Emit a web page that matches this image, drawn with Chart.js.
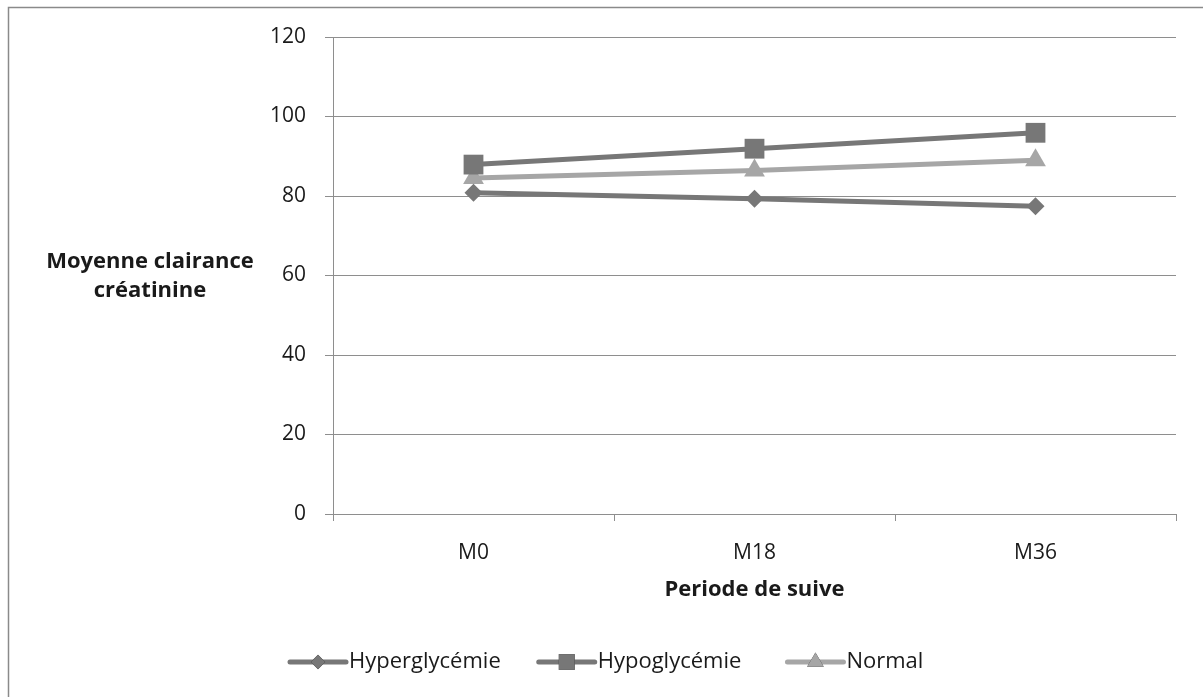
<!DOCTYPE html>
<html>
<head>
<meta charset="utf-8">
<title>Moyenne clairance créatinine</title>
<script src="https://cdn.jsdelivr.net/npm/chart.js@4"></script>
<style>
    html, body { margin: 0; padding: 0; background: #fff; overflow: hidden; }
    #wrap { position: relative; width: 1203px; height: 697px; }
    canvas { display: block; }
</style>
</head>
<body>
<div id="wrap"><canvas id="clairanceChart" width="1203" height="697"></canvas></div>
<script>
// data
const periodes = ["M0", "M18", "M36"];
const hyperglycemie = [80.8, 79.3, 77.4];
const hypoglycemie = [87.9, 91.9, 95.9];
const normal = [84.5, 86.4, 89.0];
const yTicks = [0, 20, 40, 60, 80, 100, 120];

const FONT = "'Open Sans', Lato, sans-serif";
const TEXT = "#1a1a1a";
const DARK = "#777777";
const LIGHT = "#a6a6a6";
const GRID = "#8e8e8e";

// frame + horizontal y title + legend with line and marker
const decorPlugin = {
    id: "decor",
    beforeDraw(chart) {
        let ctx = chart.ctx;
        ctx.save();
        ctx.strokeStyle = "#8a8a8a";
        ctx.lineWidth = 1.5;
        ctx.beginPath();
        ctx.moveTo(8.5, 697);
        ctx.lineTo(8.5, 7.5);
        ctx.lineTo(1203, 7.5);
        ctx.stroke();
        ctx.restore();
    },
    afterDraw(chart) {
        let ctx = chart.ctx;
        ctx.save();
        ctx.fillStyle = TEXT;
        ctx.font = "bold 22px " + FONT;
        ctx.textAlign = "center";
        ctx.textBaseline = "middle";
        ctx.fillText("Moyenne clairance", 150, 262);
        ctx.fillText("créatinine", 150, 291);

        // legend, entries share the same width
        let y = 662;
        ctx.font = "22px " + FONT;
        ctx.textAlign = "left";
        let datasets = chart.data.datasets;
        let widest = Math.max(...datasets.map(ds => ctx.measureText(ds.label).width));
        let step = 59 + widest + 38;
        datasets.forEach((ds, i) => {
            let x = 290 + i * step;
            ctx.strokeStyle = ds.borderColor;
            ctx.lineWidth = 5;
            ctx.lineCap = "round";
            ctx.beginPath();
            ctx.moveTo(x, y);
            ctx.lineTo(x + 56, y);
            ctx.stroke();
            Chart.helpers.drawPoint(ctx, {
                pointStyle: ds.pointStyle,
                radius: ds.pointRadius * 0.8,
                borderWidth: 0
            }, x + 28, y);
            ctx.fillStyle = ds.borderColor;
            ctx.fill();
            ctx.fillStyle = TEXT;
            ctx.fillText(ds.label, x + 59, y);
        });
        ctx.restore();
    }
};

function serie(label, values, color, style, radius) {
    return {
        label: label,
        data: values,
        borderColor: color,
        backgroundColor: color,
        borderWidth: 5,
        pointStyle: style,
        pointRadius: radius,
        pointBorderWidth: 0,
        pointBackgroundColor: color,
        tension: 0,
    };
}

const ctx = document.getElementById("clairanceChart").getContext("2d");
new Chart(ctx, {
    type: "line",
    data: {
        labels: periodes,
        datasets: [
            serie("Hyperglycémie", hyperglycemie, DARK, "rectRot", 9),
            serie("Hypoglycémie", hypoglycemie, DARK, "rect", 14),
            serie("Normal", normal, LIGHT, "triangle", 12),
        ]
    },
    options: {
        responsive: false,
        animation: false,
        events: [],
        layout: { padding: { left: 0, top: 37, right: 27, bottom: 83 } },
        plugins: {
            legend: { display: false },
            tooltip: { enabled: false },
        },
        scales: {
            x: {
                offset: true,
                grid: { offset: true, drawOnChartArea: false, color: GRID, tickLength: 7 },
                border: { color: GRID, width: 1 },
                ticks: { color: TEXT, font: { family: FONT, size: 21 }, padding: 19 },
                title: {
                    display: true,
                    text: "Periode de suive",
                    color: TEXT,
                    font: { family: FONT, size: 22, weight: "bold" },
                    padding: { top: 0, bottom: 11 },
                },
                afterFit: scale => { scale.height = 100; },
            },
            y: {
                min: 0,
                max: 120,
                afterBuildTicks: scale => { scale.ticks = yTicks.map(v => ({ value: v })); },
                grid: { color: GRID, tickLength: 8 },
                border: { color: GRID, width: 1 },
                ticks: { color: TEXT, font: { family: FONT, size: 21 }, padding: 19 },
                afterFit: scale => { scale.width = 333; },
            }
        }
    },
    plugins: [decorPlugin]
});
</script>
</body>
</html>
